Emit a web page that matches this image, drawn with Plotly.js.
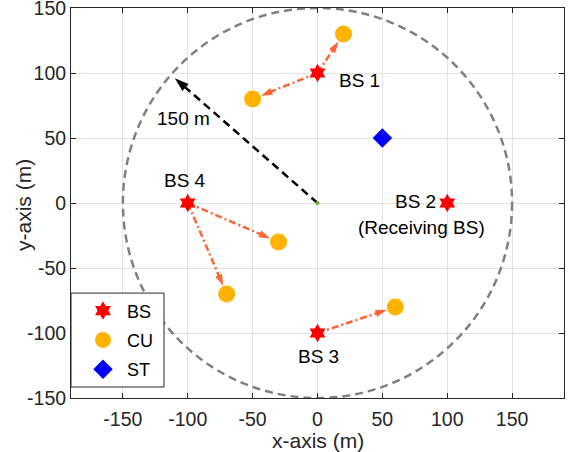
<!DOCTYPE html>
<html>
<head>
<meta charset="utf-8">
<script src="https://cdn.plot.ly/plotly-3.0.1.min.js"></script>
<style>html,body{margin:0;padding:0;background:#fff;}#chart{width:570px;height:452px;}</style>
</head>
<body>
<div id="chart"></div>
<script>
// ---- data ----
const bsX = [0, 100, 0, -100];
const bsY = [100, 0, -100, 0];
const bsNames = ['BS 1', 'BS 2', 'BS 3', 'BS 4'];
const cuX = [20, -50, -30, -70, 60];
const cuY = [130, 80, -30, -70, -80];
const stX = [50];
const stY = [50];
const linkFromBS = [0, 0, 3, 3, 2];
const linkToCU = [0, 1, 2, 3, 4];
const cellRadius = 150;
const radiusArrowEnd = [-110, 96];
const radiusLabel = '150 m';
const receivingNote = '(Receiving BS)';
const xTicks = [-150, -100, -50, 0, 50, 100, 150];
const yTicks = [-150, -100, -50, 0, 50, 100, 150];

const FONT = 'Liberation Sans, Arial, Helvetica, sans-serif';
const AX = '#262626';
const LINK = '#FF6633';

const traces = [];
// radius arrow (black dashed)
traces.push({
  x: [0, radiusArrowEnd[0]], y: [0, radiusArrowEnd[1]],
  mode: 'lines+markers', showlegend: false, hoverinfo: 'skip',
  line: {color: '#000', width: 2.5, dash: '8px,5px'},
  marker: {symbol: 'arrow', angleref: 'previous', size: 15, color: '#000'}
});
// centre dot
traces.push({
  x: [0], y: [0], mode: 'markers', showlegend: false, hoverinfo: 'skip',
  marker: {size: 4, color: '#77AC30'}
});
// BS -> CU links
for (let i = 0; i < linkFromBS.length; i++) {
  const b = linkFromBS[i], c = linkToCU[i];
  traces.push({
    x: [bsX[b], cuX[c]], y: [bsY[b], cuY[c]],
    mode: 'lines+markers', showlegend: false, hoverinfo: 'skip',
    line: {color: LINK, width: 2.5, dash: '7px,3px,2px,3px'},
    marker: {symbol: 'arrow', angleref: 'previous', size: 12, standoff: 9, color: LINK}
  });
}
traces.push({
  x: bsX, y: bsY, name: 'BS', mode: 'markers', legendgroup: 'a',
  marker: {symbol: 'hexagram', size: 14, color: '#FF0000'}
});
traces.push({
  x: cuX, y: cuY, name: 'CU', mode: 'markers', legendgroup: 'b',
  marker: {symbol: 'circle', size: 17, color: '#FFB300'}
});
traces.push({
  x: stX, y: stY, name: 'ST', mode: 'markers', legendgroup: 'c',
  marker: {symbol: 'diamond', size: 15, color: '#0000FF'}
});

const txt = (x, y, t, xa) => ({x, y, text: t, showarrow: false, xanchor: xa || 'center', yanchor: 'middle',
  font: {family: FONT, size: 19, color: '#000'}});
const annotations = [
  txt(bsX[0] + 15, bsY[0] - 6, bsNames[0], 'left'),
  txt(bsX[1] - 24.5, bsY[1] + 1, bsNames[1]),
  txt(bsX[1] - 20, bsY[1] - 19, receivingNote),
  txt(bsX[2] + 0.5, bsY[2] - 18, bsNames[2]),
  txt(bsX[3] - 2.5, bsY[3] + 17, bsNames[3]),
  txt(-103, 65, radiusLabel),
  {xref: 'paper', yref: 'paper', x: 0.5, y: -0.1077, text: 'x-axis (m)', showarrow: false,
   xanchor: 'center', yanchor: 'middle', font: {family: FONT, size: 21, color: AX}},
  {xref: 'paper', yref: 'paper', x: -0.0953, y: 0.495, text: 'y-axis (m)', showarrow: false, textangle: -90,
   xanchor: 'center', yanchor: 'middle', font: {family: FONT, size: 21, color: AX}}
];

const layout = {
  width: 570, height: 452,
  margin: {l: 71, r: 6, t: 8, b: 54},
  paper_bgcolor: '#fff', plot_bgcolor: '#fff',
  font: {family: FONT, size: 18, color: AX},
  showlegend: true,
  legend: {
    x: 0.0162, y: 0.271, xanchor: 'left', yanchor: 'top',
    bgcolor: 'rgba(0,0,0,0)', borderwidth: 0, itemwidth: 38,
    traceorder: 'grouped', tracegroupgap: 3,
    font: {family: FONT, size: 18, color: '#000'}
  },
  xaxis: {
    range: [-190, 190], tickvals: xTicks, ticktext: xTicks.map(String),
    showgrid: true, gridcolor: '#e3e3e3', gridwidth: 1, zeroline: false,
    showline: true, linecolor: AX, linewidth: 1, mirror: 'ticks',
    ticks: 'inside', ticklen: 5, tickcolor: AX, ticklabelstandoff: 4, ticklabeloverflow: 'allow',
    tickfont: {family: FONT, size: 19.5, color: AX}
  },
  yaxis: {
    range: [-150, 150], tickvals: yTicks, ticktext: yTicks.map(String),
    showgrid: true, gridcolor: '#e3e3e3', gridwidth: 1, zeroline: false,
    showline: true, linecolor: AX, linewidth: 1, mirror: 'ticks',
    ticks: 'inside', ticklen: 5, tickcolor: AX, ticklabeloverflow: 'allow',
    tickfont: {family: FONT, size: 19.5, color: AX}
  },
  shapes: [
    {type: 'circle', xref: 'x', yref: 'y', x0: -cellRadius, y0: -cellRadius, x1: cellRadius, y1: cellRadius,
     line: {color: '#808080', width: 2.5, dash: '8px,5px'}, layer: 'between'},
    {type: 'rect', xref: 'paper', yref: 'paper', x0: 0, x1: 0.1886, y0: 0.0282, y1: 0.269,
     line: {color: AX, width: 1}, fillcolor: '#fff', layer: 'above'}
  ],
  annotations: annotations
};

Plotly.newPlot('chart', traces, layout, {displayModeBar: false, staticPlot: true});
</script>
</body>
</html>
